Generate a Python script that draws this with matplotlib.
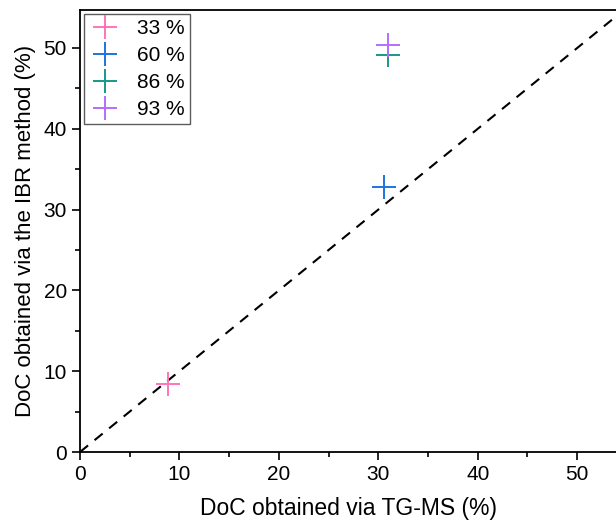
import numpy as np
import matplotlib.pyplot as plt
from matplotlib.ticker import MultipleLocator

plt.rcParams['font.family'] = ['Liberation Sans', 'DejaVu Sans']

labels = ["33 %", "60 %", "86 %", "93 %"]
doc_tgms = [8.8, 30.6, 31.0, 31.0]
doc_ibr = [8.4, 32.8, 49.1, 50.4]
colors = ["#FF73B9", "#1A75E0", "#16998A", "#B56EFF"]

fig = plt.figure(figsize=(6.16, 5.27), dpi=100)
ax = fig.add_axes([80 / 616, 75 / 527, 536 / 616, 442 / 527])

x_max = 53.9
y_max = 54.7
ax.plot([0, 60], [0, 60], color="black", linestyle=(0, (5, 4)), linewidth=1.5, zorder=1)

for lab, xv, yv, c in zip(labels, doc_tgms, doc_ibr, colors):
    ax.plot(xv, yv, marker="+", markersize=17, markeredgewidth=1.4,
            linestyle="none", color=c, label=lab, zorder=3)

ax.set_xlim(0, x_max)
ax.set_ylim(0, y_max)
ax.xaxis.set_major_locator(MultipleLocator(10))
ax.xaxis.set_minor_locator(MultipleLocator(5))
ax.yaxis.set_major_locator(MultipleLocator(10))
ax.yaxis.set_minor_locator(MultipleLocator(5))
ax.tick_params(which="major", direction="out", length=6, width=1.2, labelsize=15)
ax.tick_params(which="minor", direction="out", length=3.5, width=1.2)
ax.spines["right"].set_visible(False)
for s in ["left", "bottom", "top"]:
    ax.spines[s].set_linewidth(1.3)

ax.set_xlabel("DoC obtained via TG-MS (%)", fontsize=16.5, labelpad=9)
ax.set_ylabel("DoC obtained via the IBR method (%)", fontsize=16, labelpad=5)

leg = ax.legend(loc="upper left", fontsize=15, frameon=True, fancybox=False,
                borderaxespad=0.2, handlelength=1.5, handletextpad=0.8,
                labelspacing=0.38, borderpad=0.25)
leg.get_frame().set_edgecolor("#333333")
leg.get_frame().set_linewidth(1.0)

fig.savefig("out.png", dpi=100)
